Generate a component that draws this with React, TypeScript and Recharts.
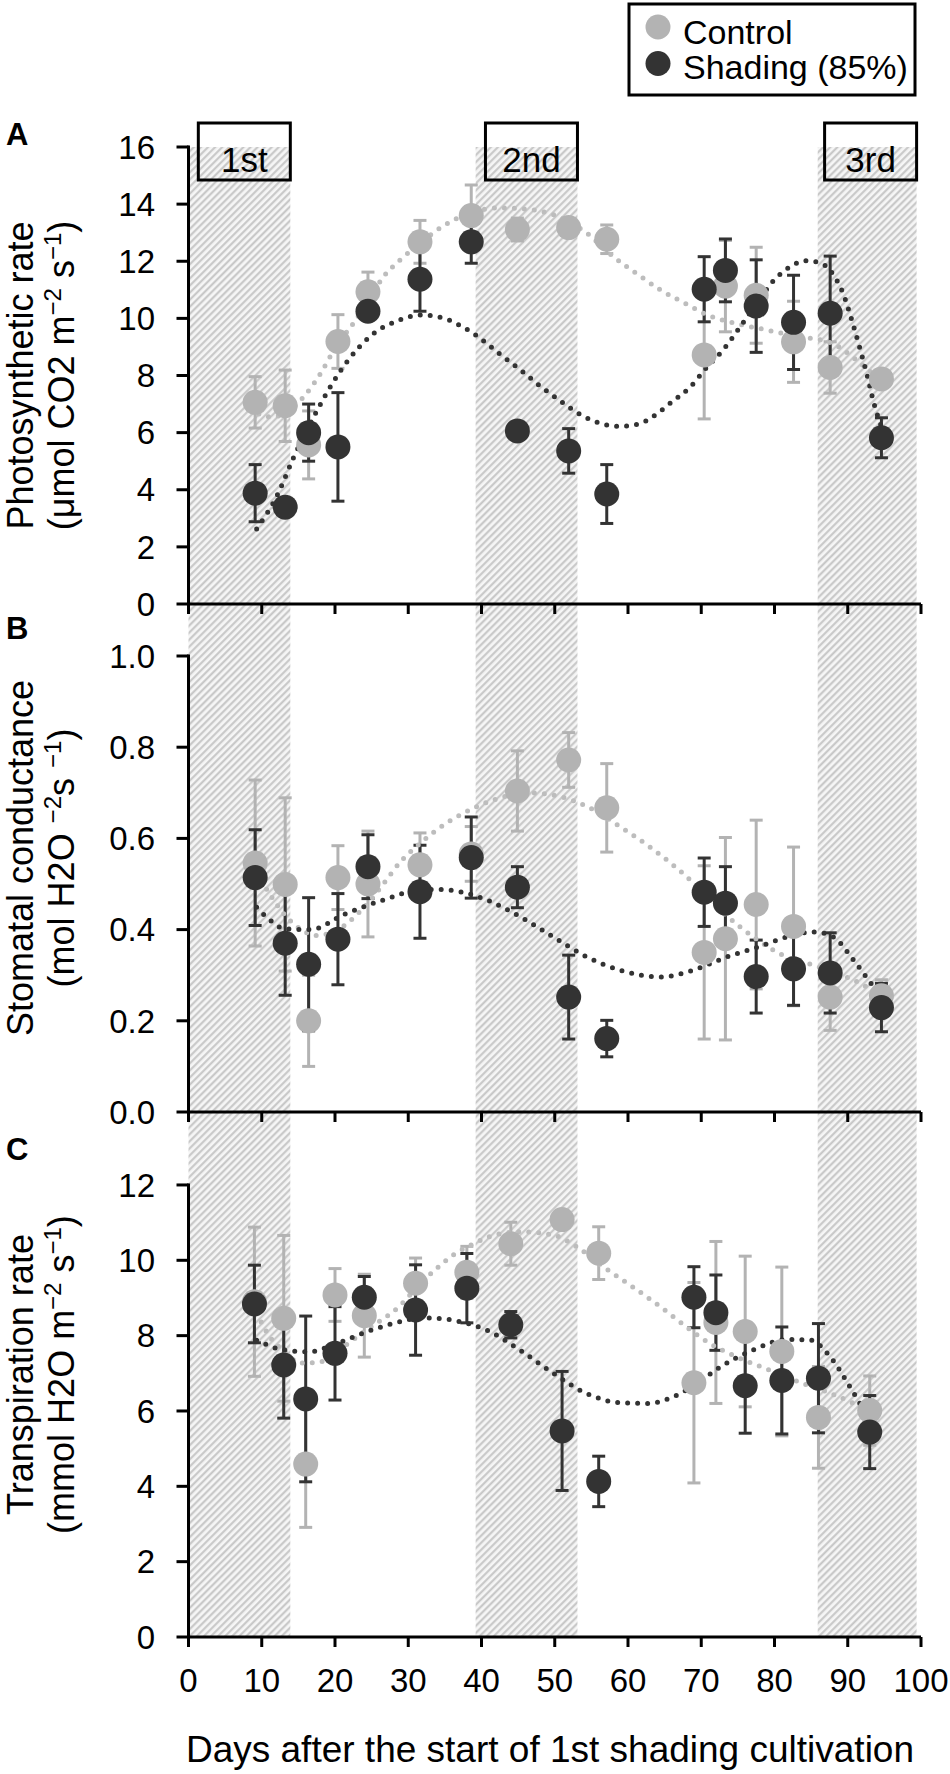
import React from 'react';
import {
  ComposedChart,
  XAxis,
  YAxis,
  Scatter,
  Line,
  ErrorBar,
  ReferenceArea,
  ReferenceLine,
} from 'recharts';

const FONT = "'Liberation Sans', Arial, Helvetica, sans-serif";
const GRAY = '#b3b3b3';
const GRAY_TREND = '#bdbdbd';
const DARK = '#333333';

// ---------- data ----------
const xTicks = [0, 10, 20, 30, 40, 50, 60, 70, 80, 90, 100];
const shadingPeriods = [
  [0, 13.9],
  [39.2, 53.1],
  [85.9, 99.4],
];
const periodNames = ['1st', '2nd', '3rd'];

const daysAB = [9.1, 13.2, 16.4, 20.4, 24.5, 31.6, 38.6, 44.9, 51.9, 57.1, 70.4, 73.3, 77.5, 82.6, 87.6, 94.6];
const daysC = [9, 13, 16, 20, 24, 31, 38, 44, 51, 56, 69, 72, 76, 81, 86, 93];

// A: photosynthetic rate
const photoTicks = [0, 2, 4, 6, 8, 10, 12, 14, 16];
const photoCtrl = [7.06, 6.94, 5.57, 9.19, 10.93, 12.68, 13.6, 13.11, 13.18, 12.77, 8.72, 11.13, 10.81, 9.18, 8.28, 7.88];
const photoCtrlErr = [0.9, 1.25, 1.19, 0.94, 0.69, 0.75, 1.07, 0.4, 0.3, 0.5, 2.24, 1.6, 1.68, 1.42, 0.9, 0.3];
const photoShade = [3.88, 3.39, 6.0, 5.5, 10.25, 11.37, 12.68, 6.06, 5.36, 3.85, 11.02, 11.68, 10.43, 9.86, 10.18, 5.82];
const photoShadeErr = [1.0, 0.3, 1.0, 1.9, 0.3, 1.12, 0.75, 0.15, 0.78, 1.03, 1.14, 1.1, 1.62, 1.65, 2.0, 0.7];
const photoCtrlTrend = [
  [9.6, 6.65], [11.1, 6.55], [13.1, 6.65], [14.6, 6.95], [16.1, 7.37], [18.1, 8.1], [20.1, 9.0], [22.7, 9.9],
  [24.7, 10.7], [26.6, 11.45], [28.9, 12.05], [31.2, 12.55], [33.7, 13.05], [38, 13.65], [42.5, 13.87],
  [47, 13.8], [50.6, 13.55], [54.3, 13.0], [57.9, 12.18], [61.6, 11.49], [64.4, 11.0], [68, 10.5],
  [71, 10.1], [74.3, 9.85], [78.8, 9.6], [83.4, 9.35], [87.1, 9.2], [89.1, 8.95], [90.7, 8.64],
  [93.4, 8.06], [94.8, 7.72],
];
const photoShadeTrend = [
  [9.3, 2.63], [12.1, 3.8], [14.3, 5.1], [17.5, 6.75], [19.7, 7.75], [22, 8.6], [24.8, 9.37], [28.9, 9.95],
  [31.7, 10.12], [34.2, 10.05], [37.1, 9.75], [39.3, 9.4], [42.5, 8.75], [45.3, 8.2], [48, 7.63], [50.8, 7.1],
  [53.5, 6.63], [55.9, 6.35], [58.5, 6.22], [61.4, 6.3], [63.9, 6.65], [66.1, 7.1], [68.5, 7.6], [70.8, 8.3],
  [73, 8.9], [75.3, 9.7], [77.5, 10.5], [79.8, 11.3], [82.1, 11.8], [84.4, 12.02], [86.6, 11.9], [88.1, 11.5],
  [89.4, 10.85], [90.6, 9.9], [91.6, 9.0], [92.6, 8.06], [93.6, 7.0], [94.6, 6.2],
];

// B: stomatal conductance
const condTicks = [0, 0.2, 0.4, 0.6, 0.8, 1.0];
const condCtrl = [0.546, 0.499, 0.2, 0.514, 0.5, 0.542, 0.566, 0.704, 0.772, 0.667, 0.35, 0.38, 0.455, 0.407, 0.252, 0.255];
const condCtrlErr = [0.182, 0.19, 0.1, 0.07, 0.116, 0.07, 0.06, 0.088, 0.06, 0.097, 0.19, 0.222, 0.185, 0.174, 0.073, 0.035];
const condShade = [0.514, 0.37, 0.324, 0.379, 0.538, 0.483, 0.558, 0.493, 0.252, 0.161, 0.482, 0.458, 0.297, 0.314, 0.305, 0.229];
const condShadeErr = [0.105, 0.114, 0.146, 0.1, 0.07, 0.102, 0.089, 0.045, 0.092, 0.04, 0.075, 0.08, 0.08, 0.08, 0.088, 0.053];
const condCtrlTrend = [
  [9.3, 0.527], [11, 0.48], [13, 0.435], [15.2, 0.402], [17.5, 0.387], [20.6, 0.402], [23.5, 0.441],
  [26.6, 0.5], [29, 0.55], [31.4, 0.586], [34, 0.62], [37.5, 0.655], [41.6, 0.684], [46.6, 0.7],
  [50.7, 0.692], [54.4, 0.67], [58.9, 0.626], [63.5, 0.575], [68, 0.516], [72.6, 0.443], [77.1, 0.384],
  [81.7, 0.34], [85.3, 0.322], [88.5, 0.304], [91.7, 0.282], [94.6, 0.253],
];
const condShadeTrend = [
  [9.3, 0.449], [11.2, 0.42], [13.1, 0.402], [16.7, 0.4], [21.2, 0.433], [26.6, 0.465], [31.6, 0.487],
  [34.3, 0.488], [37.1, 0.483], [40.7, 0.465], [45.3, 0.428], [49.8, 0.384], [54.4, 0.34], [58.9, 0.311],
  [64.4, 0.296], [68.9, 0.311], [73.5, 0.34], [78, 0.363], [82.6, 0.388], [85.3, 0.395], [88, 0.384],
  [90.8, 0.333], [93.5, 0.275], [94.9, 0.246],
];

// C: transpiration rate
const transTicks = [0, 2, 4, 6, 8, 10, 12];
const transCtrl = [8.9, 8.46, 4.59, 9.08, 8.53, 9.39, 9.68, 10.44, 11.08, 10.19, 6.75, 8.35, 8.11, 7.58, 5.83, 6.01];
const transCtrlErr = [1.98, 2.2, 1.68, 0.7, 1.1, 0.67, 0.69, 0.57, 0.2, 0.7, 2.66, 2.15, 2.0, 2.24, 1.35, 0.92];
const transShade = [8.84, 7.22, 6.32, 7.53, 9.02, 8.68, 9.26, 8.29, 5.47, 4.13, 9.02, 8.61, 6.67, 6.81, 6.87, 5.44];
const transShadeErr = [1.03, 1.41, 2.2, 1.24, 0.55, 1.2, 0.92, 0.35, 1.58, 0.67, 0.81, 1.0, 1.26, 1.42, 1.45, 0.97];
const transCtrlTrend = [
  [9.3, 8.6], [11, 8.0], [13.4, 7.53], [15.2, 7.27], [17.9, 7.3], [21.1, 7.7], [24.3, 8.15], [28.9, 8.8],
  [31.5, 9.35], [33.5, 9.72], [36.2, 10.15], [39, 10.45], [40.7, 10.6], [45.3, 10.76], [49.8, 10.67],
  [53, 10.36], [56.6, 9.83], [60.3, 9.34], [64.4, 8.77], [68, 8.23], [71.2, 7.79], [74.8, 7.44],
  [79.4, 7.08], [83.9, 6.73], [87.6, 6.47], [90.8, 6.2], [93, 5.98],
];
const transShadeTrend = [
  [9.3, 7.88], [13, 7.62], [16.6, 7.57], [19.7, 7.75], [24.3, 8.1], [28.9, 8.37], [31.6, 8.47], [34, 8.46],
  [37.1, 8.37], [40.7, 8.15], [45.3, 7.61], [49.8, 7.0], [54.4, 6.46], [58.9, 6.22], [62.6, 6.2], [66.2, 6.38],
  [69.4, 6.73], [72.6, 7.17], [77.1, 7.62], [81.7, 7.9], [84.9, 7.88], [87.6, 7.44], [90.3, 6.64],
  [92.2, 6.02], [93, 5.76],
];

const seriesInfo = [
  { name: 'Control', color: GRAY },
  { name: 'Shading (85%)', color: DARK },
];

// ---------- layout ----------
const W = 950;
const H = 1774;
const X_LEFT = 188.5;
const X_RIGHT = 921;
const YW = 80;
const XH = 30;
const BOX_W = 92;

const panelA = { top: 147, bottom: 604 };
const panelB = { top: 604, bottom: 1112 };
const panelC = { top: 1112, bottom: 1637 };

const renderBox = (p: any, name: string) => {
  const vb = p.viewBox || {};
  const bx = vb.x + vb.width - BOX_W;
  return (
    <g>
      <rect x={bx} y={vb.y - 24} width={BOX_W} height={57} fill="none" stroke="#000" strokeWidth={3} />
      <text x={bx + BOX_W / 2} y={vb.y + 24.5} textAnchor="middle" fontSize={35} fontFamily={FONT} fill="#000">
        {name}
      </text>
    </g>
  );
};

const dotShape = (color: string) => (p: any) =>
  p.cx == null ? <g /> : <circle cx={p.cx} cy={p.cy} r={12.5} fill={color} />;

type PanelProps = {
  top: number;
  bottom: number;
  days: number[];
  ctrl: number[];
  ctrlErr: number[];
  shade: number[];
  shadeErr: number[];
  ctrlTrend: number[][];
  shadeTrend: number[][];
  yMax: number;
  yTicks: number[];
  fmt?: (v: number) => string;
  xLabels: boolean;
  boxes: boolean;
};

function Panel(props: PanelProps) {
  const { top, bottom, days, ctrl, ctrlErr, shade, shadeErr, ctrlTrend, shadeTrend, yMax, yTicks, fmt, xLabels, boxes } =
    props;
  const ctrlPts = days.map((x, i) => ({ x, y: ctrl[i], e: ctrlErr[i] }));
  const shadePts = days.map((x, i) => ({ x, y: shade[i], e: shadeErr[i] }));
  const ctrlLine = ctrlTrend.map(([x, y]) => ({ x, y }));
  const shadeLine = shadeTrend.map(([x, y]) => ({ x, y }));
  const topTick = yTicks[yTicks.length - 1];
  return (
    <div style={{ position: 'absolute', left: 0, top: 0 }}>
      <ComposedChart
        width={W}
        height={H}
        margin={{ top, right: W - X_RIGHT, bottom: H - bottom - XH, left: X_LEFT - YW }}
      >
        <XAxis
          type="number"
          dataKey="x"
          domain={[0, 100]}
          ticks={xTicks}
          interval={0}
          height={XH}
          allowDataOverflow
          axisLine={{ stroke: '#000', strokeWidth: 3 }}
          tickLine={{ stroke: '#000', strokeWidth: 3 }}
          tickSize={10}
          tickMargin={22}
          tick={xLabels ? { fontSize: 33, fill: '#000', fontFamily: FONT } : () => <g />}
        />
        <YAxis
          type="number"
          dataKey="y"
          domain={[0, yMax]}
          ticks={yTicks}
          interval={0}
          width={YW}
          allowDataOverflow
          axisLine={false}
          tickLine={{ stroke: '#000', strokeWidth: 3 }}
          tickSize={12}
          tickMargin={21.5}
          tick={{ fontSize: 33, fill: '#000', fontFamily: FONT }}
          tickFormatter={fmt}
        />
        {shadingPeriods.map(([a, b], i) => (
          <ReferenceArea
            key={'p' + i}
            x1={a}
            x2={b}
            fill="url(#hatch)"
            fillOpacity={1}
            stroke="none"
            label={boxes ? (p: any) => renderBox(p, periodNames[i]) : undefined}
          />
        ))}
        <Scatter data={ctrlPts} dataKey="y" isAnimationActive={false} shape={dotShape(GRAY)}>
          <ErrorBar dataKey="e" direction="y" width={6.5} stroke={GRAY} strokeWidth={3} isAnimationActive={false} />
        </Scatter>
        <Scatter data={shadePts} dataKey="y" isAnimationActive={false} shape={dotShape(DARK)}>
          <ErrorBar dataKey="e" direction="y" width={6.5} stroke={DARK} strokeWidth={3} isAnimationActive={false} />
        </Scatter>
        <Line
          data={ctrlLine}
          dataKey="y"
          type="monotone"
          stroke={GRAY_TREND}
          strokeWidth={5}
          strokeDasharray="0 10"
          strokeLinecap="round"
          dot={false}
          activeDot={false}
          isAnimationActive={false}
        />
        <Line
          data={shadeLine}
          dataKey="y"
          type="monotone"
          stroke={DARK}
          strokeWidth={5}
          strokeDasharray="0 10"
          strokeLinecap="round"
          dot={false}
          activeDot={false}
          isAnimationActive={false}
        />
        <ReferenceLine
          segment={[
            { x: 0, y: 0 },
            { x: 0, y: topTick },
          ]}
          stroke="#000"
          strokeWidth={3}
          strokeLinecap="square"
        />
      </ComposedChart>
    </div>
  );
}

type Part = { t: string; sup?: boolean };

function YTitle({ cy, line1, line2 }: { cy: number; line1: string; line2: Part[] }) {
  return (
    <g fontFamily={FONT} fontSize={36} fill="#000">
      <text x={33} y={cy} textAnchor="middle" transform={`rotate(-90 33 ${cy})`}>
        {line1}
      </text>
      <text x={74} y={cy} textAnchor="middle" transform={`rotate(-90 74 ${cy})`}>
        {line2.map((p, i) =>
          p.sup ? (
            <tspan key={i} fontSize={24} dy={-13}>
              {p.t}
            </tspan>
          ) : (
            <tspan key={i} dy={i > 0 && line2[i - 1].sup ? 13 : 0}>
              {p.t}
            </tspan>
          )
        )}
      </text>
    </g>
  );
}

function Overlay() {
  return (
    <svg width={W} height={H} style={{ position: 'absolute', left: 0, top: 0, pointerEvents: 'none' }}>
      <defs>
        <pattern id="hatch" patternUnits="userSpaceOnUse" width={5} height={5} patternTransform="rotate(45)">
          <rect x={0} y={0} width={5} height={5} fill="#f6f6f6" />
          <line x1={1.2} y1={0} x2={1.2} y2={5} stroke="#c6c6c6" strokeWidth={2.1} />
        </pattern>
      </defs>
      {/* legend */}
      <rect x={629} y={4} width={286} height={91} fill="#fff" stroke="#000" strokeWidth={3} />
      {seriesInfo.map((s, i) => (
        <g key={s.name}>
          <circle cx={658} cy={27 + i * 36.5} r={12.5} fill={s.color} />
          <text x={683} y={43.5 + i * 35} fontSize={34} fontFamily={FONT} fill="#000">
            {s.name}
          </text>
        </g>
      ))}
      {/* panel letters */}
      <g fontFamily={FONT} fontSize={31} fontWeight="bold" fill="#000">
        <text x={6} y={145}>A</text>
        <text x={6} y={639}>B</text>
        <text x={6} y={1160}>C</text>
      </g>
      <YTitle
        cy={(panelA.top + panelA.bottom) / 2}
        line1="Photosynthetic rate"
        line2={[{ t: '(μmol CO2 m' }, { t: '−2', sup: true }, { t: ' s' }, { t: '−1', sup: true }, { t: ')' }]}
      />
      <YTitle
        cy={(panelB.top + panelB.bottom) / 2}
        line1="Stomatal conductance"
        line2={[{ t: '(mol H2O ' }, { t: '−2', sup: true }, { t: 's ' }, { t: '−1', sup: true }, { t: ')' }]}
      />
      <YTitle
        cy={(panelC.top + panelC.bottom) / 2}
        line1="Transpiration rate"
        line2={[{ t: '(mmol H2O m' }, { t: '−2', sup: true }, { t: ' s' }, { t: '−1', sup: true }, { t: ')' }]}
      />
      <text x={550} y={1762} textAnchor="middle" fontSize={37} fontFamily={FONT} fill="#000">
        Days after the start of 1st shading cultivation
      </text>
    </svg>
  );
}

export default function App() {
  return (
    <div style={{ position: 'relative', width: W, height: H, background: '#fff', overflow: 'hidden' }}>
      <style>{'body{margin:0}'}</style>
      <Panel
        {...panelC}
        days={daysC}
        ctrl={transCtrl}
        ctrlErr={transCtrlErr}
        shade={transShade}
        shadeErr={transShadeErr}
        ctrlTrend={transCtrlTrend}
        shadeTrend={transShadeTrend}
        yMax={(panelC.bottom - panelC.top) / 37.67}
        yTicks={transTicks}
        xLabels={true}
        boxes={false}
      />
      <Panel
        {...panelB}
        days={daysAB}
        ctrl={condCtrl}
        ctrlErr={condCtrlErr}
        shade={condShade}
        shadeErr={condShadeErr}
        ctrlTrend={condCtrlTrend}
        shadeTrend={condShadeTrend}
        yMax={(panelB.bottom - panelB.top) / 456}
        yTicks={condTicks}
        fmt={(v: number) => v.toFixed(1)}
        xLabels={false}
        boxes={false}
      />
      <Panel
        {...panelA}
        days={daysAB}
        ctrl={photoCtrl}
        ctrlErr={photoCtrlErr}
        shade={photoShade}
        shadeErr={photoShadeErr}
        ctrlTrend={photoCtrlTrend}
        shadeTrend={photoShadeTrend}
        yMax={16}
        yTicks={photoTicks}
        xLabels={false}
        boxes={true}
      />
      <Overlay />
    </div>
  );
}
